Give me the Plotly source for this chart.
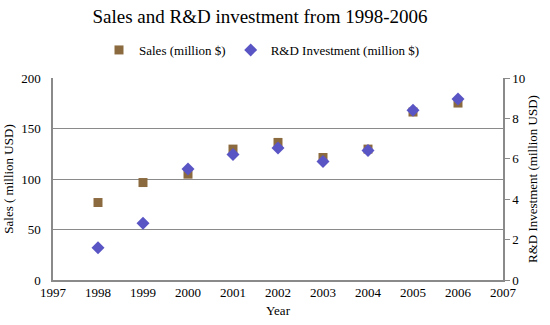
import plotly.graph_objects as go

years = [1998, 1999, 2000, 2001, 2002, 2003, 2004, 2005, 2006]
sales = [76.7, 96.5, 104.8, 129.6, 136.2, 121.3, 129.6, 166.3, 175.2]
rd = [1.6, 2.81, 5.49, 6.21, 6.53, 5.87, 6.41, 8.4, 8.96]
x_ticks = list(range(1997, 2008))

FONT = "Liberation Serif, Times New Roman, serif"
AXIS_COL = "#8a8a8a"

fig = go.Figure()
fig.add_trace(go.Scatter(
    x=years, y=sales, mode="markers", name="Sales (million $)",
    marker=dict(symbol="square", size=9, color="#8C6A3F"), yaxis="y"))
fig.add_trace(go.Scatter(
    x=years, y=rd, mode="markers", name="R&D Investment (million $)",
    marker=dict(symbol="diamond", size=10, color="#5A55C4"), yaxis="y2"))

fig.update_layout(
    width=550, height=325,
    margin=dict(l=53, r=47, t=78, b=45, autoexpand=False),
    paper_bgcolor="white", plot_bgcolor="white",
    font=dict(family=FONT, size=13, color="black"),
    title=dict(text="Sales and R&D investment from 1998-2006",
               x=260 / 550, xanchor="center", xref="container",
               y=1 - 16 / 325, yanchor="middle", yref="container",
               font=dict(family=FONT, size=19, color="black")),
    showlegend=True,
    legend=dict(orientation="h", xref="container", yref="container",
                x=262 / 550, xanchor="center", y=1 - 50 / 325, yanchor="middle",
                font=dict(family=FONT, size=13), itemwidth=30,
                bgcolor="rgba(0,0,0,0)"),
    xaxis=dict(range=[1997, 2007], tickvals=x_ticks, ticktext=[str(t) for t in x_ticks],
               showgrid=False, zeroline=False, showline=True, linecolor=AXIS_COL,
               linewidth=1.5, ticks="", mirror=False,
               title=dict(text="Year", font=dict(family=FONT, size=13), standoff=7),
               tickfont=dict(family=FONT, size=13)),
    yaxis=dict(range=[0, 200], tickvals=[0, 50, 100, 150, 200],
               showgrid=True, gridcolor=AXIS_COL, gridwidth=1.2, zeroline=False,
               showline=True, linecolor=AXIS_COL, linewidth=1.5, ticks="",
               ticklabelstandoff=8,
               title=dict(text="Sales ( million USD)", font=dict(family=FONT, size=13), standoff=5),
               tickfont=dict(family=FONT, size=13)),
    yaxis2=dict(range=[0, 10], tickvals=[0, 2, 4, 6, 8, 10], overlaying="y", side="right",
                showgrid=False, zeroline=False, showline=True, linecolor=AXIS_COL,
                linewidth=1.5, ticks="outside", ticklen=5, tickcolor=AXIS_COL,
                title=dict(text="R&D Investment (million USD)", font=dict(family=FONT, size=13), standoff=4),
                tickfont=dict(family=FONT, size=13)),
)

fig.write_html("out.html", config={"displayModeBar": False},
               post_script="document.body.style.margin='0';document.body.style.padding='0';")
